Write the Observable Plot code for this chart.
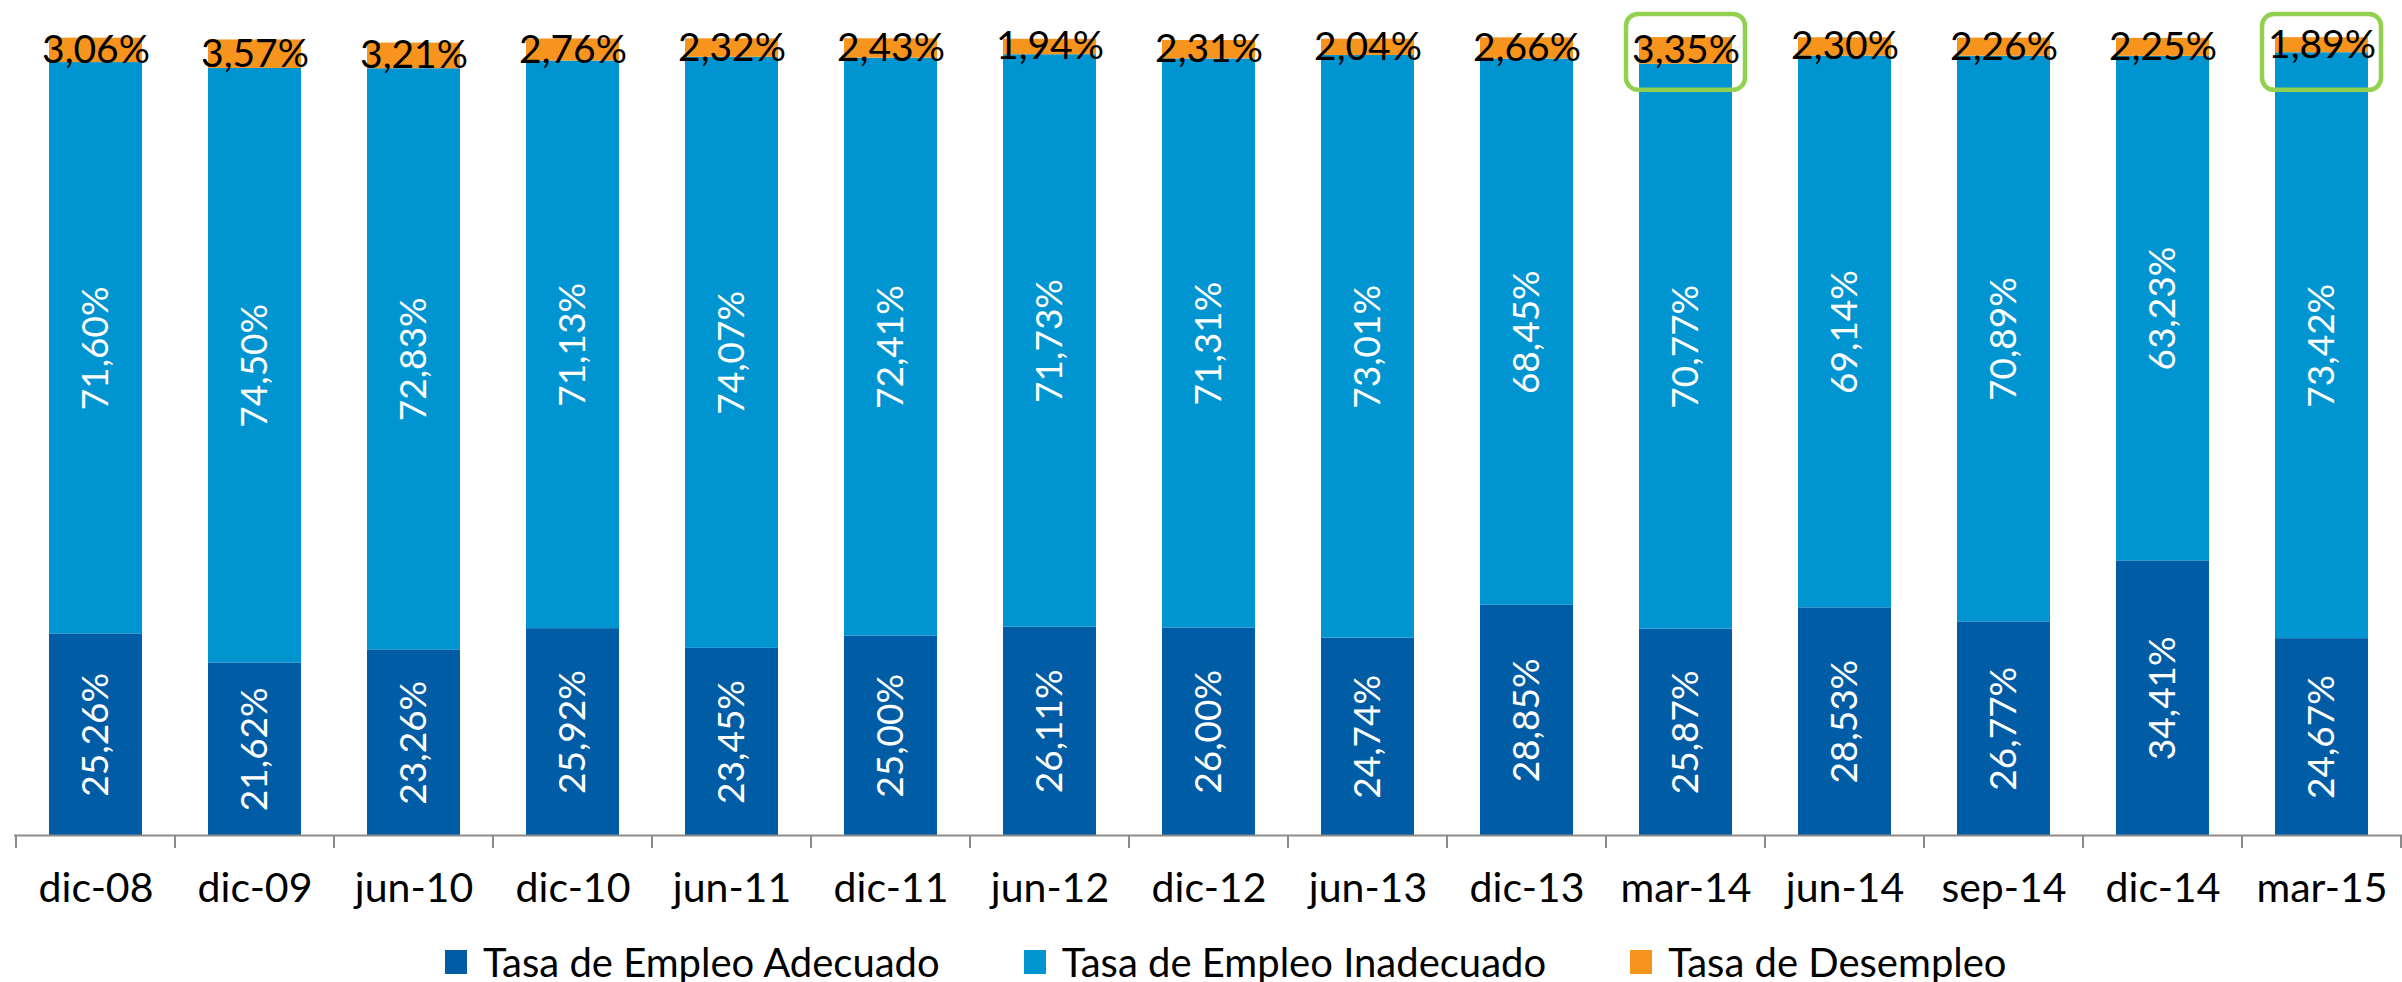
<!DOCTYPE html>
<html>
<head>
<meta charset="utf-8">
<script src="https://cdn.jsdelivr.net/npm/d3@7"></script>
<script src="https://cdn.jsdelivr.net/npm/@observablehq/plot@0.6"></script>
<style>
  html, body { margin: 0; padding: 0; background: #fff; }
  body { width: 2402px; height: 982px; position: relative; overflow: hidden; font-family: Lato, "Noto Sans", sans-serif; }
  #legend { position: absolute; left: 445px; top: 938px; height: 48px; display: flex; align-items: center; gap: 84px; font-size: 40px; color: #000; }
  .item { display: flex; align-items: center; gap: 16px; white-space: nowrap; }
  .sw { width: 22px; height: 24px; display: inline-block; }
</style>
</head>
<body>
<div id="chart"></div>
<div id="legend"></div>
<script>
const categories = ["dic-08","dic-09","jun-10","dic-10","jun-11","dic-11","jun-12","dic-12","jun-13","dic-13","mar-14","jun-14","sep-14","dic-14","mar-15"];
const seriesNames = ["Tasa de Empleo Adecuado","Tasa de Empleo Inadecuado","Tasa de Desempleo"];
const seriesColors = ["#005CA5","#0094D1","#F7941E"];
const adecuado   = [25.26,21.62,23.26,25.92,23.45,25.00,26.11,26.00,24.74,28.85,25.87,28.53,26.77,34.41,24.67];
const inadecuado = [71.60,74.50,72.83,71.13,74.07,72.41,71.73,71.31,73.01,68.45,70.77,69.14,70.89,63.23,73.42];
const desempleo  = [3.06,3.57,3.21,2.76,2.32,2.43,1.94,2.31,2.04,2.66,3.35,2.30,2.26,2.25,1.89];
const highlighted = ["mar-14","mar-15"];

const seriesValues = [adecuado, inadecuado, desempleo];
const data = [];
categories.forEach((c, i) => {
  seriesNames.forEach((s, j) => data.push({cat: c, series: s, value: seriesValues[j][i]}));
});
const fmt = v => v.toFixed(2).replace(".", ",") + "%";
const totals = new Map(categories.map((c, i) => [c, adecuado[i] + inadecuado[i] + desempleo[i]]));

const W = 2402, H = 920;
const chart = Plot.plot({
  width: W,
  height: H,
  marginLeft: 14,
  marginRight: 0,
  marginTop: 37,
  marginBottom: 85,
  style: {fontFamily: "Lato, 'Noto Sans', sans-serif", fontSize: "41px", color: "#000", background: "#fff"},
  x: {domain: categories, paddingInner: 0.416, paddingOuter: 0.208, label: null, tickSize: 0, tickPadding: 37},
  y: {domain: [0, 100], axis: null},
  color: {domain: seriesNames, range: seriesColors},
  marks: [
    Plot.barY(data, {x: "cat", y: "value", fill: "series", z: "series", order: seriesNames}),
    Plot.ruleY([0], {stroke: "#8c8c8c", strokeWidth: 2}),
    Plot.text(data, Plot.stackY({
      x: "cat", y: "value", z: "series", order: seriesNames,
      text: d => d.series === seriesNames[2] ? null : fmt(d.value),
      rotate: -90, fill: "#fff", fontSize: 37, textAnchor: "middle", lineAnchor: "middle"
    })),
    Plot.text(data, Plot.stackY({
      x: "cat", y: "value", z: "series", order: seriesNames,
      text: d => d.series === seriesNames[2] ? fmt(d.value) : null,
      fill: "#000", fontSize: 39, textAnchor: "middle", lineAnchor: "middle"
    })),
    Plot.barY(highlighted, {
      x: d => d, y1: d => totals.get(d) - 6.6, y2: d => totals.get(d) + 2.9,
      fill: "none", stroke: "#92D050", strokeWidth: 4.5, rx: 12,
      insetLeft: -13, insetRight: -13
    })
  ]
});
document.getElementById("chart").appendChild(chart);

// category boundary ticks (Excel style)
const xs = chart.scale("x");
const ys = chart.scale("y");
const y0 = ys.apply(0);
const half = (xs.step - xs.bandwidth) / 2;
const bounds = categories.map(c => xs.apply(c) - half);
bounds.push(xs.apply(categories[categories.length - 1]) + xs.bandwidth + half);
d3.select(chart).append("g")
  .selectAll("line").data(bounds).join("line")
  .attr("x1", d => d).attr("x2", d => d)
  .attr("y1", y0).attr("y2", y0 + 13)
  .attr("stroke", "#8c8c8c").attr("stroke-width", 2);

// legend
const lg = d3.select("#legend");
seriesNames.forEach((s, i) => {
  const it = lg.append("div").attr("class", "item");
  it.append("span").attr("class", "sw").style("background", seriesColors[i]);
  it.append("span").text(s);
});
</script>
</body>
</html>
